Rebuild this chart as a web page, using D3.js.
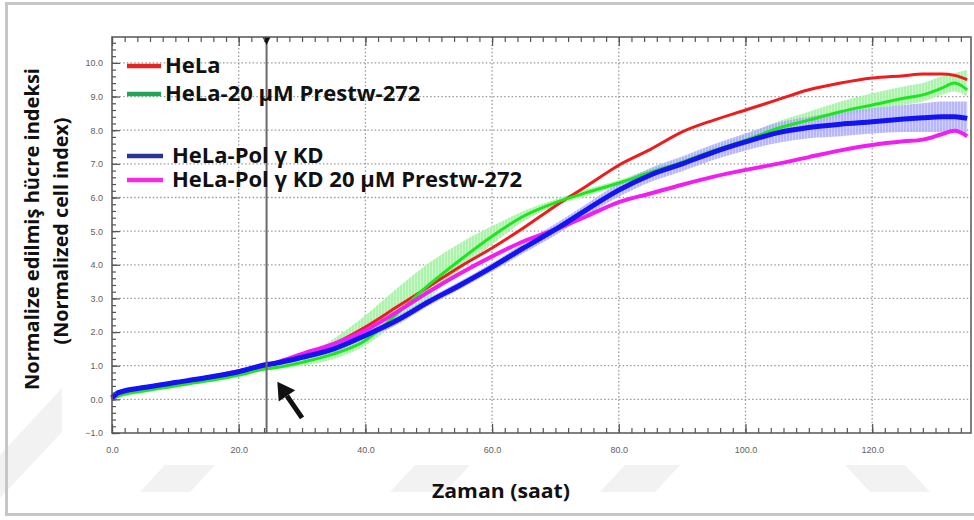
<!DOCTYPE html>
<html>
<head>
<meta charset="utf-8">
<script src="https://cdn.jsdelivr.net/npm/d3@7"></script>
<style>
  html, body { margin: 0; padding: 0; background: #fff; }
  svg { display: block; }
  .chart__axis text { font-family: 'Liberation Sans', Arial, sans-serif; font-size: 9px; fill: #5e5e5e; }
  .chart__axis path { display: none; }
  .chart__axis line { stroke: #555; stroke-width: 1.2; }
  .chart__grid line { stroke: #9c9c9c; stroke-width: 1.3; stroke-dasharray: 1.5 2.2; }
  .chart__title { font-family: 'Open Sans', sans-serif; font-weight: 700; fill: #111; }
  .chart__legend text { font-family: 'Open Sans', sans-serif; font-weight: 700; font-size: 22px; fill: #111; }
</style>
</head>
<body>
<div id="chart"></div>
<script>
// time points (hours) at which the curves were read
const hours = [0, 1, 5, 10, 15, 20, 24, 26, 30, 35, 40, 45, 50, 55, 60, 65, 70, 75, 80, 85, 90, 95, 100, 105, 110, 115, 120, 125, 128, 131, 133, 135];

const hela = [0, 0.15, 0.3, 0.45, 0.6, 0.8, 0.98, 1.08, 1.3, 1.65, 2.15, 2.75, 3.35, 3.95, 4.5, 5.1, 5.75, 6.35, 6.96, 7.43, 7.95, 8.3, 8.6, 8.9, 9.2, 9.4, 9.55, 9.62, 9.67, 9.67, 9.63, 9.5];

const helaPrestw = [0, 0.1, 0.25, 0.4, 0.55, 0.72, 0.9, 0.95, 1.1, 1.35, 1.75, 2.55, 3.4, 4.15, 4.85, 5.45, 5.85, 6.15, 6.43, 6.75, 7.05, 7.4, 7.7, 8.05, 8.3, 8.55, 8.75, 8.95, 9.05, 9.25, 9.4, 9.2];
const helaPrestwHigh = [0.05, 0.15, 0.3, 0.45, 0.6, 0.78, 0.95, 1.0, 1.25, 1.8, 2.5, 3.3, 4.05, 4.65, 5.15, 5.6, 5.95, 6.25, 6.52, 6.85, 7.15, 7.5, 7.85, 8.25, 8.55, 8.85, 9.1, 9.3, 9.4, 9.6, 9.7, 9.8];
const helaPrestwLow = [0, 0.05, 0.2, 0.35, 0.5, 0.66, 0.85, 0.9, 1.0, 1.2, 1.6, 2.3, 3.0, 3.85, 4.6, 5.3, 5.75, 6.05, 6.35, 6.65, 6.95, 7.3, 7.6, 7.9, 8.15, 8.4, 8.6, 8.75, 8.85, 9.05, 9.15, 9.0];

const polKd = [0.05, 0.2, 0.35, 0.5, 0.65, 0.82, 1.02, 1.08, 1.25, 1.5, 1.9, 2.35, 2.9, 3.4, 3.93, 4.5, 5.05, 5.65, 6.22, 6.67, 7.0, 7.35, 7.65, 7.92, 8.08, 8.18, 8.25, 8.33, 8.37, 8.4, 8.4, 8.35];
const polKdHigh = [0.1, 0.25, 0.4, 0.55, 0.7, 0.88, 1.08, 1.14, 1.33, 1.6, 2.0, 2.48, 3.02, 3.52, 4.05, 4.65, 5.22, 5.82, 6.42, 6.88, 7.22, 7.58, 7.9, 8.22, 8.4, 8.55, 8.65, 8.75, 8.8, 8.85, 8.85, 8.85];
const polKdLow = [0, 0.15, 0.3, 0.45, 0.6, 0.76, 0.96, 1.02, 1.17, 1.4, 1.8, 2.22, 2.78, 3.28, 3.8, 4.35, 4.88, 5.48, 6.02, 6.46, 6.78, 7.12, 7.4, 7.62, 7.76, 7.82, 7.9, 7.95, 7.95, 7.95, 7.95, 7.9];

const polKdPrestw = [0, 0.18, 0.35, 0.5, 0.65, 0.84, 1.0, 1.1, 1.35, 1.65, 2.05, 2.6, 3.2, 3.75, 4.25, 4.7, 5.05, 5.45, 5.86, 6.12, 6.38, 6.62, 6.82, 7.0, 7.2, 7.4, 7.56, 7.67, 7.72, 7.88, 7.98, 7.82];

const seriesNames = ['HeLa', 'HeLa-20 µM Prestw-272', 'HeLa-Pol γ KD', 'HeLa-Pol γ KD 20 µM Prestw-272'];

const xTicks = [0, 20, 40, 60, 80, 100, 120];
const yTicks = [-1, 0, 1, 2, 3, 4, 5, 6, 7, 8, 9, 10];
const xMinorTicks = d3.range(0, 136, 2);
const yMinorTicks = d3.range(-1, 10.8, 0.2);

const treatmentHour = 24.4;
// arrow annotation, tail -> head, in (hours, index)
const arrowFrom = [30, -0.55];
const arrowTo = [26.1, 0.52];

const width = 974;
const height = 520;
const margin = { top: 37, right: 3, bottom: 87, left: 112 };
const innerWidth = width - margin.left - margin.right;
const innerHeight = height - margin.top - margin.bottom;

const svg = d3.select('#chart')
  .append('svg')
    .attr('width', width)
    .attr('height', height);

// faint watermark + outer frame
const wm = svg.append('g').attr('fill', '#f2f2f2');
[
  [[0, 498], [0, 455], [62, 388], [62, 432]],
  [[140, 492], [165, 465], [215, 465], [190, 492]],
  [[390, 492], [415, 465], [470, 465], [445, 492]],
  [[600, 492], [625, 465], [680, 465], [655, 492]],
  [[870, 492], [845, 465], [905, 465], [930, 492]]
].forEach(p => wm.append('polygon').attr('points', p.join(' ')));

svg.append('rect')
  .attr('x', 6.5)
  .attr('y', 3.5)
  .attr('width', 990)
  .attr('height', 511)
  .attr('fill', 'none')
  .attr('stroke', '#c6c6c6')
  .attr('stroke-width', 3);

const g = svg.append('g')
  .attr('transform', `translate(${margin.left}, ${margin.top})`);

g.append('rect')
  .attr('width', innerWidth)
  .attr('height', innerHeight)
  .attr('fill', '#fff');

const x = d3.scaleLinear().domain([0, 135.6]).range([0, innerWidth]);
const y = d3.scaleLinear().domain([-1, 10.77]).range([innerHeight, 0]);

// grid
const grid = g.append('g').attr('class', 'chart__grid');
grid.selectAll('.h')
  .data(yTicks.filter(d => d > -1))
  .enter()
  .append('line')
    .attr('x1', 0)
    .attr('x2', innerWidth)
    .attr('y1', d => y(d))
    .attr('y2', d => y(d));
grid.selectAll('.v')
  .data(xTicks.filter(d => d > 0))
  .enter()
  .append('line')
    .attr('x1', d => x(d))
    .attr('x2', d => x(d))
    .attr('y1', 0)
    .attr('y2', innerHeight);

// patterns for the error bars
const defs = svg.append('defs');
const hatch = (id, bg, fg) => {
  const p = defs.append('pattern')
    .attr('id', id)
    .attr('patternUnits', 'userSpaceOnUse')
    .attr('width', 3)
    .attr('height', 6);
  p.append('rect').attr('width', 3).attr('height', 6).attr('fill', bg);
  p.append('line')
    .attr('x1', 1).attr('x2', 1).attr('y1', 0).attr('y2', 6)
    .attr('stroke', fg).attr('stroke-width', 1);
};
hatch('hatch-green', '#c4f7c4', '#84ec84');
hatch('hatch-blue', '#c9c9fb', '#8c8cf5');

const rows = hours.map((h, i) => ({
  h,
  hela: hela[i],
  prestw: helaPrestw[i],
  prestwHi: helaPrestwHigh[i],
  prestwLo: helaPrestwLow[i],
  kd: polKd[i],
  kdHi: polKdHigh[i],
  kdLo: polKdLow[i],
  kdPrestw: polKdPrestw[i]
}));

const band = (hi, lo) => d3.area()
  .curve(d3.curveMonotoneX)
  .x(d => x(d.h))
  .y0(d => y(d[lo]))
  .y1(d => y(d[hi]));

const line = key => d3.line()
  .curve(d3.curveMonotoneX)
  .x(d => x(d.h))
  .y(d => y(d[key]));

g.append('path')
  .datum(rows)
  .attr('d', band('prestwHi', 'prestwLo'))
  .attr('fill', 'url(#hatch-green)')
  .attr('opacity', 0.9);

g.append('path')
  .datum(rows)
  .attr('d', band('kdHi', 'kdLo'))
  .attr('fill', 'url(#hatch-blue)')
  .attr('opacity', 0.85);

const curves = [
  { key: 'hela', color: '#ee1c1c', w: 3 },
  { key: 'prestw', color: '#1ee61e', w: 3 },
  { key: 'kdPrestw', color: '#f01ef0', w: 4 },
  { key: 'kd', color: '#1414f0', w: 5 }
];

curves.forEach(c => {
  g.append('path')
    .datum(rows)
    .attr('d', line(c.key))
    .attr('fill', 'none')
    .attr('stroke', c.color)
    .attr('stroke-width', c.w)
    .attr('stroke-linejoin', 'round');
});

// treatment marker
g.append('line')
  .attr('x1', x(treatmentHour))
  .attr('x2', x(treatmentHour))
  .attr('y1', 0)
  .attr('y2', innerHeight)
  .attr('stroke', '#6a6a6a')
  .attr('stroke-width', 2);

g.append('path')
  .attr('d', `M${x(treatmentHour) - 4},0 L${x(treatmentHour) + 4},0 L${x(treatmentHour)},8 Z`)
  .attr('fill', '#111');

// axes with inward ticks
const addAxis = (axis, transform, labels) => {
  const a = g.append('g')
    .attr('class', 'chart__axis')
    .attr('transform', transform)
    .call(axis);
  if (!labels) a.selectAll('text').remove();
  return a;
};

addAxis(d3.axisLeft(y).tickValues(yMinorTicks).tickSize(-4), 'translate(0,0)', false);
addAxis(d3.axisLeft(y).tickValues(yTicks).tickSize(-8).tickPadding(9).tickFormat(d3.format('.1f')), 'translate(0,0)', true);
addAxis(d3.axisBottom(x).tickValues(xMinorTicks).tickSize(-5), `translate(0,${innerHeight})`, false);
addAxis(d3.axisBottom(x).tickValues(xTicks).tickSize(-9).tickPadding(14).tickFormat(d3.format('.1f')), `translate(0,${innerHeight})`, true);
addAxis(d3.axisTop(x).tickValues(xMinorTicks).tickSize(-5), 'translate(0,0)', false);
addAxis(d3.axisTop(x).tickValues(xTicks).tickSize(-9), 'translate(0,0)', false);

g.append('rect')
  .attr('width', innerWidth)
  .attr('height', innerHeight)
  .attr('fill', 'none')
  .attr('stroke', '#555')
  .attr('stroke-width', 1.5);

// arrow annotation
const ax0 = x(arrowFrom[0]), ay0 = y(arrowFrom[1]);
const ax1 = x(arrowTo[0]), ay1 = y(arrowTo[1]);
const ang = Math.atan2(ay1 - ay0, ax1 - ax0);
const headLen = 17, headW = 10;
const bx = ax1 - headLen * Math.cos(ang), by = ay1 - headLen * Math.sin(ang);
g.append('line')
  .attr('x1', ax0).attr('y1', ay0)
  .attr('x2', bx).attr('y2', by)
  .attr('stroke', '#111')
  .attr('stroke-width', 5);
g.append('path')
  .attr('d', `M${ax1},${ay1} L${bx + headW * Math.sin(ang)},${by - headW * Math.cos(ang)} L${bx - headW * Math.sin(ang)},${by + headW * Math.cos(ang)} Z`)
  .attr('fill', '#111');

// legend
const legendColors = ['#e42323', '#22a45a', '#26349c', '#f42ae4'];
const legendY = [66, 94, 156, 180];
const legendTextX = [165, 165, 172, 172];
const legend = svg.append('g').attr('class', 'chart__legend');
seriesNames.forEach((name, i) => {
  legend.append('line')
    .attr('x1', 127)
    .attr('x2', i < 2 ? 161 : 163)
    .attr('y1', legendY[i])
    .attr('y2', legendY[i])
    .attr('stroke', legendColors[i])
    .attr('stroke-width', 4.5);
  legend.append('text')
    .attr('x', legendTextX[i])
    .attr('y', legendY[i] + 7)
    .text(name);
});

// axis titles
svg.append('text')
  .attr('class', 'chart__title')
  .attr('transform', 'translate(39, 229) rotate(-90)')
  .attr('text-anchor', 'middle')
  .attr('font-size', 19)
  .attr('textLength', 322)
  .attr('lengthAdjust', 'spacingAndGlyphs')
  .text('Normalize edilmiş hücre indeksi');

svg.append('text')
  .attr('class', 'chart__title')
  .attr('transform', 'translate(68, 231) rotate(-90)')
  .attr('text-anchor', 'middle')
  .attr('font-size', 19)
  .attr('textLength', 227)
  .attr('lengthAdjust', 'spacingAndGlyphs')
  .text('(Normalized cell index)');

svg.append('text')
  .attr('class', 'chart__title')
  .attr('x', 501)
  .attr('y', 498)
  .attr('text-anchor', 'middle')
  .attr('font-size', 20)
  .attr('textLength', 138)
  .attr('lengthAdjust', 'spacingAndGlyphs')
  .text('Zaman (saat)');
</script>
</body>
</html>
